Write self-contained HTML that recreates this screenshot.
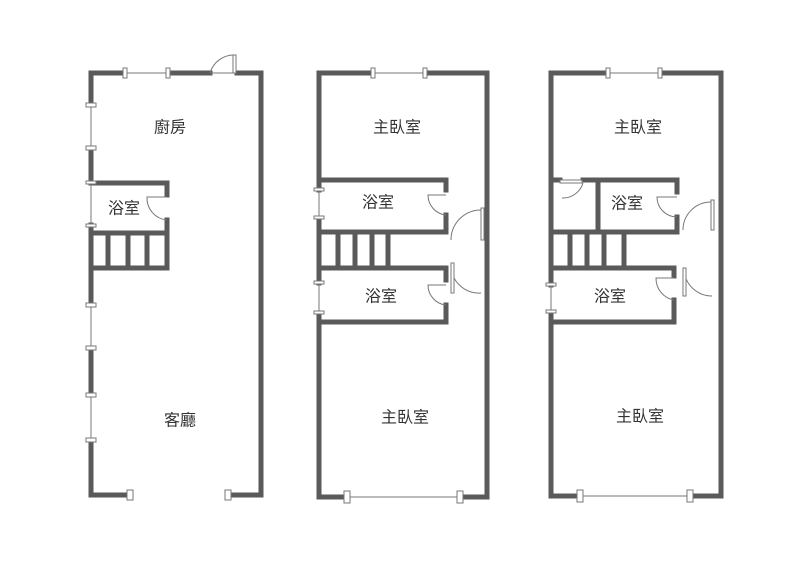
<!DOCTYPE html>
<html><head><meta charset="utf-8"><style>
html,body{margin:0;padding:0;background:#fff;width:800px;height:576px;overflow:hidden}
text{font-family:"Liberation Sans","Noto Sans CJK TC",sans-serif;font-size:16px;fill:#333;text-anchor:middle;dominant-baseline:central}
</style></head><body>
<svg width="800" height="576" viewBox="0 0 800 576" xmlns="http://www.w3.org/2000/svg">
<g fill="none" stroke="#5a5a5a" stroke-width="5" stroke-linecap="square">
<polyline points="125,73 91,73 91,105"/>
<line x1="168" y1="73" x2="210" y2="73"/>
<polyline points="237,73 261,73 261,495 228,495"/>
<line x1="91" y1="148" x2="91" y2="183"/>
<line x1="91" y1="225" x2="91" y2="305"/>
<line x1="91" y1="348" x2="91" y2="395"/>
<polyline points="91,440 91,495 130,495"/>
<polyline points="91,183 167,183 167,195"/>
<polyline points="167,220 167,268 91,268"/>
<line x1="91" y1="233" x2="167" y2="233"/>
<line x1="108" y1="233" x2="108" y2="268"/>
<line x1="128" y1="233" x2="128" y2="268"/>
<line x1="147" y1="233" x2="147" y2="268"/>
<polyline points="373,73 319,73 319,190"/>
<polyline points="425,73 487,73 487,497 460,497"/>
<line x1="319" y1="218" x2="319" y2="283"/>
<polyline points="319,313 319,497 347,497"/>
<polyline points="319,180 446,180 446,190"/>
<polyline points="446,215 446,232 319,232"/>
<polyline points="319,268 446,268 446,280"/>
<polyline points="446,305 446,322 319,322"/>
<line x1="338" y1="232" x2="338" y2="268"/>
<line x1="355" y1="232" x2="355" y2="268"/>
<line x1="372" y1="232" x2="372" y2="268"/>
<line x1="388" y1="232" x2="388" y2="268"/>
<polyline points="608,73 551,73 551,285"/>
<polyline points="660,73 721,73 721,496 690,496"/>
<polyline points="551,312 551,496 580,496"/>
<line x1="551" y1="180" x2="560" y2="180"/>
<line x1="583" y1="180" x2="677" y2="180"/>
<line x1="598" y1="180" x2="598" y2="232"/>
<polyline points="677,180 677,192"/>
<polyline points="677,217 677,232 551,232"/>
<line x1="570" y1="232" x2="570" y2="268"/>
<line x1="587" y1="232" x2="587" y2="268"/>
<line x1="604" y1="232" x2="604" y2="268"/>
<line x1="624" y1="232" x2="624" y2="268"/>
<polyline points="551,268 674,268 674,276"/>
<polyline points="674,300 674,322 551,322"/>
</g>
<g fill="#fff" stroke="#777" stroke-width="1">
<line x1="125" y1="73" x2="168" y2="73"/><line x1="91" y1="105" x2="91" y2="148"/><line x1="91" y1="183" x2="91" y2="225"/><line x1="91" y1="305" x2="91" y2="348"/><line x1="91" y1="395" x2="91" y2="440"/>
<line x1="373" y1="73" x2="425" y2="73"/><line x1="319" y1="190" x2="319" y2="218"/><line x1="319" y1="283" x2="319" y2="313"/><line x1="347" y1="497" x2="460" y2="497"/>
<line x1="608" y1="73" x2="660" y2="73"/><line x1="551" y1="285" x2="551" y2="312"/><line x1="580" y1="496" x2="690" y2="496"/>
<rect x="123" y="68" width="4" height="10"/><rect x="166" y="68" width="4" height="10"/>
<rect x="86" y="103" width="10" height="4"/><rect x="86" y="146" width="10" height="4"/><rect x="86" y="181" width="10" height="3"/><rect x="86" y="224" width="10" height="3"/>
<rect x="86" y="303" width="10" height="4"/><rect x="86" y="346" width="10" height="4"/><rect x="86" y="393" width="10" height="4"/><rect x="86" y="438" width="10" height="4"/>
<rect x="127" y="490" width="6" height="10"/><rect x="225" y="490" width="6" height="10"/>
<rect x="371" y="68" width="4" height="10"/><rect x="423" y="68" width="4" height="10"/>
<rect x="314" y="188" width="10" height="3"/><rect x="314" y="216" width="10" height="3"/><rect x="314" y="281" width="10" height="3"/><rect x="314" y="311" width="10" height="3"/>
<rect x="344" y="491" width="6" height="12"/><rect x="457" y="491" width="6" height="12"/>
<rect x="606" y="68" width="4" height="10"/><rect x="658" y="68" width="4" height="10"/>
<rect x="546" y="283" width="10" height="3"/><rect x="546" y="310" width="10" height="3"/>
<rect x="577" y="490" width="6" height="12"/><rect x="687" y="490" width="6" height="12"/>
</g>
<g fill="none" stroke="#777" stroke-width="1">
<path d="M210,73 A25,25 0 0 1 235,55"/><rect x="233" y="55" width="3" height="18" fill="#fff"/><line x1="210" y1="73" x2="237" y2="73"/>
<path d="M167,220 A22,22 0 0 1 147,197 L167,197"/>
<path d="M446,215 A20,20 0 0 1 428,195 L446,195"/>
<path d="M446,305 A20,20 0 0 1 428,285 L446,285"/>
<path d="M451,240 A30,30 0 0 1 481,210"/><rect x="481" y="208" width="3" height="32" fill="#fff"/>
<path d="M451,265 A28,28 0 0 0 481,293"/><rect x="451" y="263" width="3" height="30" fill="#fff"/>
<path d="M583,183 A21,21 0 0 1 562,198"/><rect x="560" y="180" width="22" height="3" fill="#fff"/>
<path d="M677,217 A20,20 0 0 1 657,197 L677,197"/>
<path d="M674,300 A22,22 0 0 1 656,278 L674,278"/>
<path d="M683,230 A28,28 0 0 1 711,202"/><rect x="711" y="200" width="3" height="30" fill="#fff"/>
<path d="M684,270 A28,28 0 0 0 712,296"/><rect x="683" y="268" width="3" height="28" fill="#fff"/>
</g>
<text x="170" y="128">廚房</text>
<text x="124" y="209">浴室</text>
<text x="180" y="421">客廳</text>
<text x="397" y="128">主臥室</text>
<text x="378" y="203">浴室</text>
<text x="381" y="297">浴室</text>
<text x="405" y="418">主臥室</text>
<text x="638" y="128">主臥室</text>
<text x="627" y="204">浴室</text>
<text x="610" y="297">浴室</text>
<text x="640" y="417">主臥室</text>
</svg>
</body></html>
